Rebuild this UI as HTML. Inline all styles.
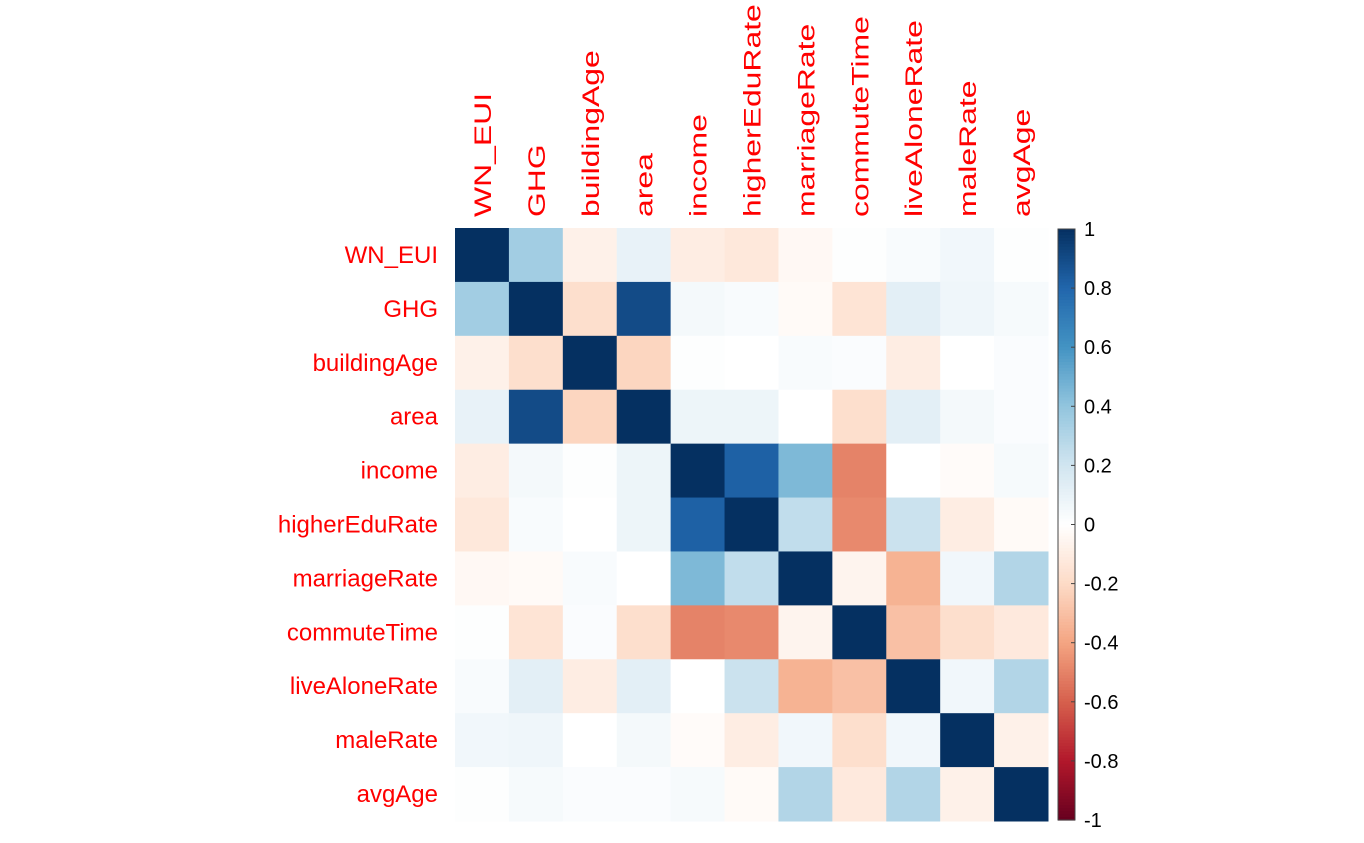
<!DOCTYPE html>
<html><head><meta charset="utf-8"><style>
body{margin:0;background:#fff;}
svg{display:block;font-family:"Liberation Sans",Arial,sans-serif;}
</style></head><body>
<svg id="chart" width="1364" height="843"></svg>
<script>
const vars=["WN_EUI","GHG","buildingAge","area","income","higherEduRate","marriageRate","commuteTime","liveAloneRate","maleRate","avgAge"];
const upper=[
[0.35,-0.08,0.10,-0.10,-0.13,-0.04,0.01,0.03,0.06,0.01],
[-0.18,0.90,0.05,0.03,-0.03,-0.15,0.12,0.07,0.04],
[-0.22,0.01,0.00,0.03,0.02,-0.10,0.00,0.02],
[0.08,0.08,0.00,-0.18,0.12,0.05,0.02],
[0.82,0.45,-0.50,0.00,-0.02,0.04],
[0.25,-0.48,0.22,-0.10,-0.03],
[-0.06,-0.35,0.06,0.30],
[-0.30,-0.18,-0.12],
[0.06,0.30],
[-0.08]
];
const ticks=[1,0.8,0.6,0.4,0.2,0,-0.2,-0.4,-0.6,-0.8,-1];
const pal=["#67001F","#B2182B","#D6604D","#F4A582","#FDDBC7","#FFFFFF","#D1E5F0","#92C5DE","#4393C3","#2166AC","#053061"];
function hex(h){return [1,3,5].map(i=>parseInt(h.substr(i,2),16));}
function color(v){let t=(v+1)/2*(pal.length-1);let i=Math.min(Math.floor(t),pal.length-2);let f=t-i;
 const a=hex(pal[i]),b=hex(pal[i+1]);return "rgb("+a.map((c,k)=>Math.round(c+(b[k]-c)*f)).join(",")+")";}
const n=vars.length,x0=455,y0=228,cs=(1048-455)/n;
function mat(i,j){if(i===j)return 1;const a=Math.min(i,j),b=Math.max(i,j);return upper[a][b-a-1];}
const svg=document.getElementById("chart");const NS="http://www.w3.org/2000/svg";
function el(t,at,txt){const e=document.createElementNS(NS,t);for(const k in at)e.setAttribute(k,at[k]);if(txt!==undefined)e.textContent=txt;svg.appendChild(e);return e;}
for(let i=0;i<n;i++)for(let j=0;j<n;j++){
 const r=el("rect",{x:x0+j*cs,y:y0+i*cs,width:cs+0.5,height:cs+0.5,fill:color(mat(i,j))});
 
 
}
vars.forEach((v,i)=>{
 const ry=y0+(i+0.5)*cs+8;
 const t=el("text",{x:438,y:ry,"text-anchor":"end","font-size":24,fill:"#FF0000"},v);
 
 
 const cx=x0+(i+0.5)*cs+9;
 const c=el("text",{x:0,y:0,"font-size":24,fill:"#FF0000",transform:"translate("+cx+" 217) rotate(-90) scale(1.33 1)"},v);
 
 
});
const bx=1058,bw=17,by0=229,by1=820;
const steps=200;
for(let k=0;k<steps;k++){
 const v=1-2*(k+0.5)/steps;
 const r=el("rect",{x:bx,y:by0+k*(by1-by0)/steps,width:bw,height:(by1-by0)/steps+0.6,fill:color(v)});
 
 
}
const bd=el("rect",{x:bx,y:by0,width:bw,height:by1-by0,fill:"none",stroke:"#444","stroke-width":1});


ticks.forEach(v=>{
 const y=by0+(1-v)/2*(by1-by0);
 const l=el("line",{x1:bx+bw-4,x2:bx+bw,y1:y,y2:y,stroke:"#444"});
 
 
 const t=el("text",{x:1084,y:y+7,"font-size":20,fill:"#000"},String(v));
 
 
});
</script>
</body></html>
